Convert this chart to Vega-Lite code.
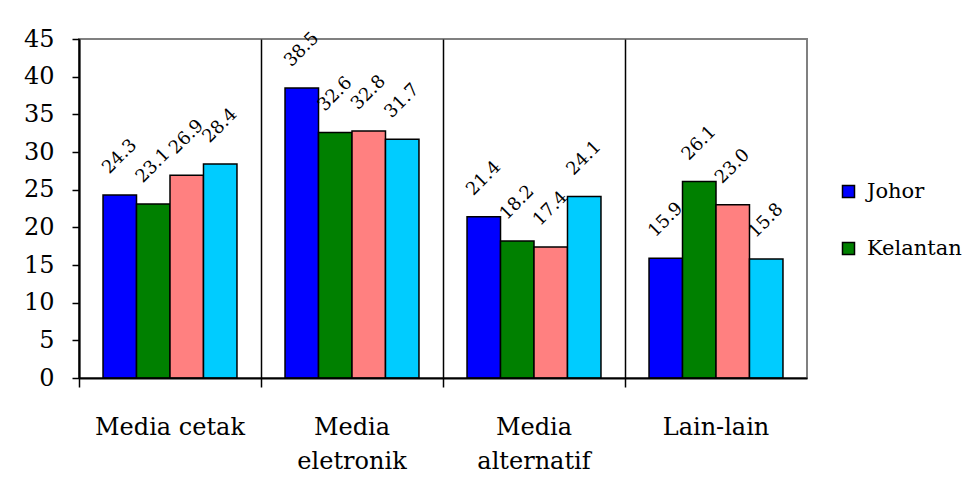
{
  "$schema": "https://vega.github.io/schema/vega-lite/v6.json",
  "autosize": {"type": "none"},
  "padding": {"left": 79, "top": 39, "right": 160, "bottom": 106},
  "width": 728,
  "height": 339,
  "background": "white",
  "config": {
    "font": "DejaVu Serif",
    "view": {"stroke": "#808080", "strokeWidth": 2}
  },
  "data": {
    "values": [
      {"cat": "Media cetak", "series": "Johor", "value": 24.3},
      {"cat": "Media cetak", "series": "Kelantan", "value": 23.1},
      {"cat": "Media cetak", "series": "Negeri 3", "value": 26.9},
      {"cat": "Media cetak", "series": "Negeri 4", "value": 28.4},
      {"cat": "Media eletronik", "series": "Johor", "value": 38.5},
      {"cat": "Media eletronik", "series": "Kelantan", "value": 32.6},
      {"cat": "Media eletronik", "series": "Negeri 3", "value": 32.8},
      {"cat": "Media eletronik", "series": "Negeri 4", "value": 31.7},
      {"cat": "Media alternatif", "series": "Johor", "value": 21.4},
      {"cat": "Media alternatif", "series": "Kelantan", "value": 18.2},
      {"cat": "Media alternatif", "series": "Negeri 3", "value": 17.4},
      {"cat": "Media alternatif", "series": "Negeri 4", "value": 24.1},
      {"cat": "Lain-lain", "series": "Johor", "value": 15.9},
      {"cat": "Lain-lain", "series": "Kelantan", "value": 26.1},
      {"cat": "Lain-lain", "series": "Negeri 3", "value": 23.0},
      {"cat": "Lain-lain", "series": "Negeri 4", "value": 15.8}
    ]
  },
  "encoding": {
    "x": {
      "field": "cat", "type": "nominal",
      "sort": ["Media cetak", "Media eletronik", "Media alternatif", "Lain-lain"],
      "scale": {"paddingInner": 0.264, "paddingOuter": 0.132},
      "axis": {
        "title": null, "bandPosition": -0.1793, "grid": true, "gridColor": "black", "gridWidth": 1.5,
        "domainColor": "black", "domainWidth": 2, "tickColor": "black", "tickWidth": 1.5, "tickSize": 9,
        "labelAngle": 0, "labelFontSize": 24, "labelColor": "black", "labelBaseline": "alphabetic",
        "labelPadding": 47, "labelLineHeight": 34, "labelFont": "DejaVu Serif",
        "labelExpr": "datum.value == 'Media cetak' ? datum.value : split(datum.value, ' ')",
        "zindex": 1
      }
    },
    "xOffset": {
      "field": "series", "type": "nominal",
      "sort": ["Johor", "Kelantan", "Negeri 3", "Negeri 4"],
      "scale": {"paddingInner": 0, "paddingOuter": 0}
    },
    "y": {
      "field": "value", "type": "quantitative",
      "scale": {"domain": [0, 45], "nice": false},
      "axis": {
        "title": null, "values": [0, 5, 10, 15, 20, 25, 30, 35, 40, 45], "grid": false,
        "domainColor": "black", "domainWidth": 2, "tickColor": "black", "tickWidth": 1.5, "tickSize": 7,
        "labelFontSize": 24, "labelColor": "black", "labelPadding": 18, "labelFont": "DejaVu Serif",
        "zindex": 1
      }
    }
  },
  "layer": [
    {
      "mark": {"type": "bar", "stroke": "black", "strokeWidth": 1.5},
      "encoding": {
        "color": {
          "field": "series", "type": "nominal",
          "scale": {"domain": ["Johor", "Kelantan", "Negeri 3", "Negeri 4"], "range": ["#0000FF", "#008000", "#FF8080", "#00CCFF"]},
          "legend": {
            "title": null, "values": ["Johor", "Kelantan"], "orient": "none", "legendX": 759, "legendY": 142,
            "symbolType": "square", "symbolSize": 144, "symbolStrokeColor": "black", "symbolStrokeWidth": 1.5,
            "labelFontSize": 21, "labelColor": "black", "labelFont": "DejaVu Serif", "labelOffset": 8,
            "rowPadding": 35
          }
        }
      }
    },
    {
      "mark": {"type": "text", "angle": -45, "align": "center", "baseline": "middle", "dx": 27, "dy": -27, "fontSize": 18, "font": "DejaVu Serif", "color": "black"},
      "encoding": {
        "text": {"field": "value", "type": "quantitative", "format": ".1f"}
      }
    }
  ]
}
